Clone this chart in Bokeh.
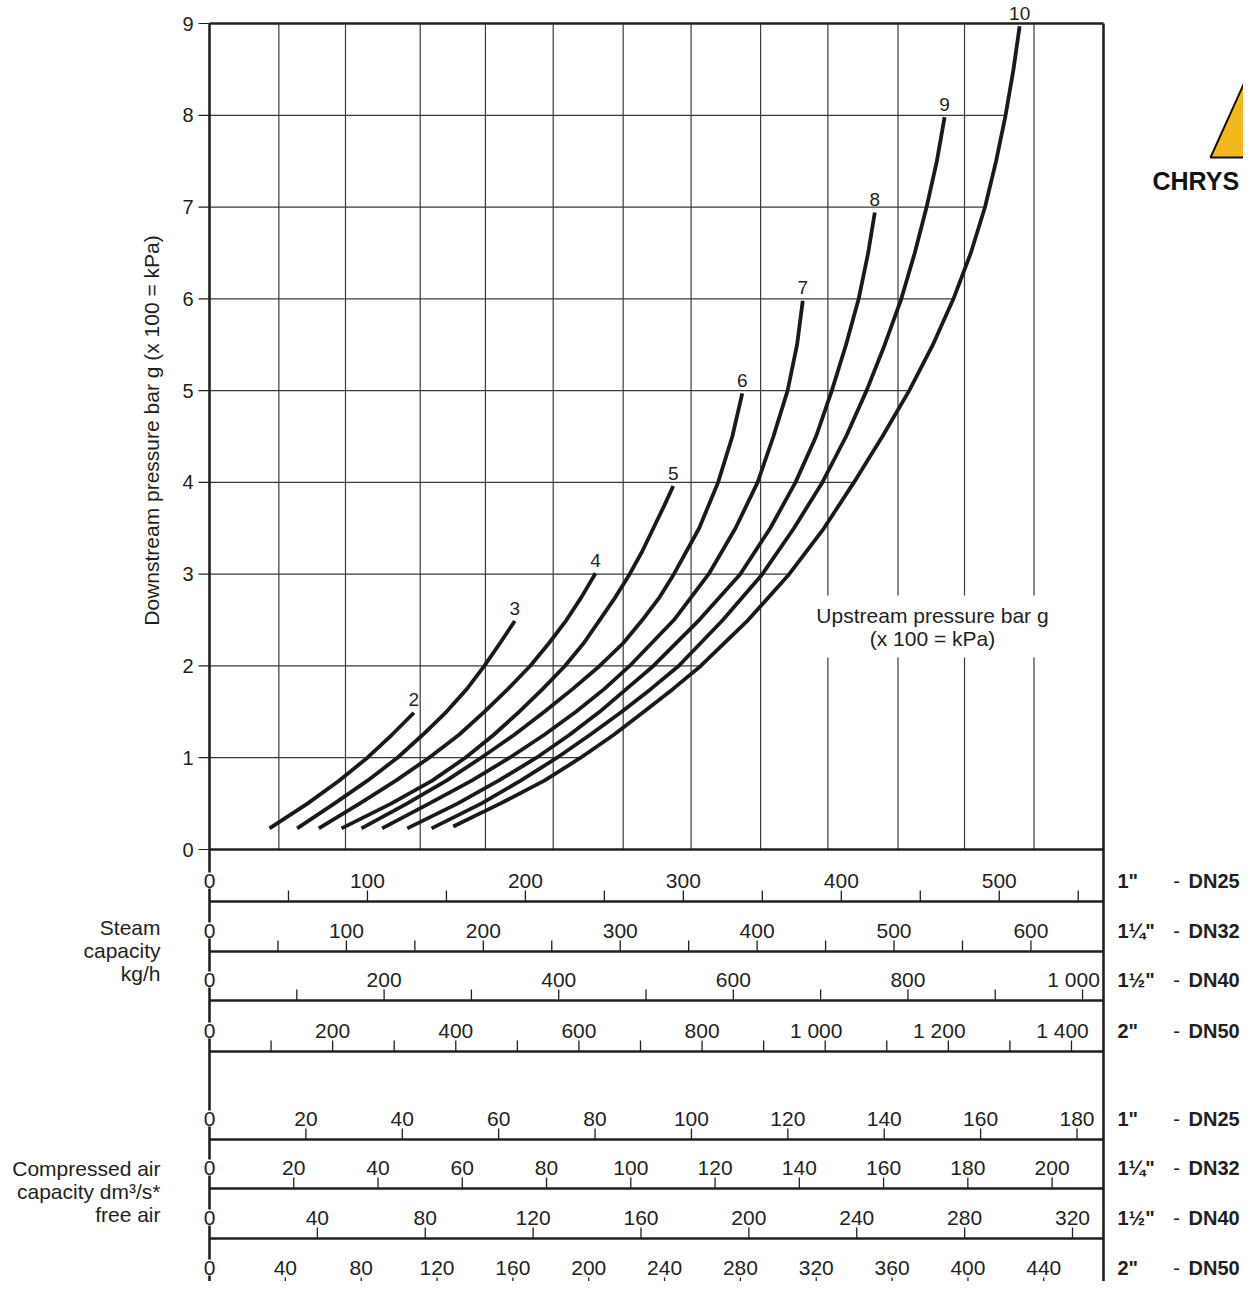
import numpy as np
from bokeh.plotting import figure
from bokeh.models import Range1d
from bokeh.embed import file_html
from bokeh.resources import INLINE
from bokeh.core.properties import value

# ---------------- data ----------------
UPSTREAM = ["2", "3", "4", "5", "6", "7", "8", "9", "10"]

# downstream pressure (bar g) and steam capacity 1" DN25 (kg/h) along each curve
P2_C2 = [0.23, 0.5, 0.75, 1.0, 1.25, 1.49]
Q_C2 = [38, 62, 82, 100, 115.5, 129.4]
P2_C3 = [0.23, 0.5, 0.75, 1.0, 1.25, 1.5, 1.75, 2.0, 2.25, 2.49]
Q_C3 = [55.5, 79, 100, 119, 135, 150, 163, 174, 184, 193.3]
P2_C4 = [0.23, 0.5, 0.75, 1.0, 1.25, 1.5, 1.75, 2.0, 2.25, 2.5, 2.75, 3.01]
Q_C4 = [69.2, 95, 118, 139, 158, 174, 189, 203, 215, 226, 235.5, 244.4]
P2_C5 = [0.23, 0.5, 0.75, 1.0, 1.25, 1.5, 1.75, 2.0, 2.25, 2.5, 2.75, 3.0, 3.25, 3.5, 3.75, 3.96]
Q_C5 = [83.6, 115, 141, 162, 180, 196, 211, 225, 237, 247, 257, 266, 274, 281, 288, 293.6]
P2_C6 = [0.23, 0.5, 0.75, 1.0, 1.25, 1.5, 1.75, 2.0, 2.25, 2.5, 2.75, 3.0, 3.5, 4.0, 4.5, 4.97]
Q_C6 = [96.2, 125, 150, 172, 193, 212, 230, 247, 262, 274, 285, 294, 310, 322, 331, 337.3]
P2_C7 = [0.23, 0.5, 0.75, 1.0, 1.25, 1.5, 1.75, 2.0, 2.5, 3.0, 3.5, 4.0, 4.5, 5.0, 5.5, 5.98]
Q_C7 = [109.3, 139, 166, 190, 212, 232, 250, 266, 294, 316, 333, 347, 357, 366, 372, 375.6]
P2_C8 = [0.23, 0.5, 0.75, 1.0, 1.25, 1.5, 1.75, 2.0, 2.5, 3.0, 3.5, 4.0, 4.5, 5.0, 5.5, 6.0, 6.5, 6.94]
Q_C8 = [125.2, 157, 183, 207, 228, 247, 264, 281, 310, 336, 355, 371, 384, 394, 403, 411, 417, 421.2]
P2_C9 = [0.23, 0.5, 0.75, 1.0, 1.25, 1.5, 1.75, 2.0, 2.5, 3.0, 3.5, 4.0, 4.5, 5.0, 5.5, 6.0, 6.5, 7.0, 7.5, 7.98]
Q_C9 = [140.6, 172, 197, 220, 241, 261, 279.5, 297, 325, 350, 370, 388, 403, 416, 427.5, 438, 446.5, 454, 460.5, 465.4]
P2_C10 = [0.25, 0.5, 0.75, 1.0, 1.25, 1.5, 1.75, 2.0, 2.5, 3.0, 3.5, 4.0, 4.5, 5.0, 5.5, 6.0, 6.5, 7.0, 7.5, 8.0, 8.5, 8.97]
Q_C10 = [154.3, 184, 212, 235, 256, 275, 293.5, 311, 341, 367, 389, 408, 426, 443, 458, 471, 482, 491, 498, 504, 509, 512.9]

Y_TICKS = [0, 1, 2, 3, 4, 5, 6, 7, 8, 9]
GRID_Q = [43.9, 86.1, 133.4, 174.7, 217.6, 261.9, 304.9, 348.9, 391.5, 435.9, 478.0, 522.0]
MAIN_MAX = 566          # 1" DN25 kg/h at the right edge of the chart

SIZES = ['1"', '1\u00bc"', '1\u00bd"', '2"']
DNS = ["DN25", "DN32", "DN40", "DN50"]

STEAM_MAX = [566, 653, 1024, 1452]
STEAM_DN25_LABELS = [0, 100, 200, 300, 400, 500]
STEAM_DN25_TICKS = [50, 100, 150, 200, 250, 300, 350, 400, 450, 500, 550]
STEAM_DN32_LABELS = [0, 100, 200, 300, 400, 500, 600]
STEAM_DN32_TICKS = [50, 100, 150, 200, 250, 300, 350, 400, 450, 500, 550, 600]
STEAM_DN40_LABELS = [0, 200, 400, 600, 800, 1000]
STEAM_DN40_TICKS = [100, 200, 300, 400, 500, 600, 700, 800, 900, 1000]
STEAM_DN50_LABELS = [0, 200, 400, 600, 800, 1000, 1200, 1400]
STEAM_DN50_TICKS = [100, 200, 300, 400, 500, 600, 700, 800, 900, 1000, 1100, 1200, 1300, 1400]

AIR_MAX = [185.5, 212.2, 331.5, 471.5]
AIR_DN25_LABELS = [0, 20, 40, 60, 80, 100, 120, 140, 160, 180]
AIR_DN25_TICKS = [20, 40, 60, 80, 100, 120, 140, 160, 180]
AIR_DN32_LABELS = [0, 20, 40, 60, 80, 100, 120, 140, 160, 180, 200]
AIR_DN32_TICKS = [20, 40, 60, 80, 100, 120, 140, 160, 180, 200]
AIR_DN40_LABELS = [0, 40, 80, 120, 160, 200, 240, 280, 320]
AIR_DN40_TICKS = [40, 80, 120, 160, 200, 240, 280, 320]
AIR_DN50_LABELS = [0, 40, 80, 120, 160, 200, 240, 280, 320, 360, 400, 440]
AIR_DN50_TICKS = [40, 80, 120, 160, 200, 240, 280, 320, 360, 400, 440]

# ---------------- layout (picture pixels) ----------------
W, H = 1243, 1281
CL, CT = 0, 0
CR, CB = CL + W, CT + H
PX_L, PX_R = 209, 1103
PX_Y0, PX_Y9 = 849, 23
STEAM_BASE = [901, 951, 1000, 1051]
AIR_BASE = [1139, 1188, 1238, 1288]
TICK_LEN = 11
LABEL_UP = 21

INK = "#231f20"
GRID_C = "#3a3a3a"
FONT = value("Liberation Sans")


def x_range_for(vmax):
    k = (PX_R - PX_L) / vmax
    return Range1d(start=(CL - PX_L) / k, end=(CR - PX_L) / k)


ky = (PX_Y0 - PX_Y9) / 9.0
y_range = Range1d(start=-(CB - PX_Y0) / ky, end=9 + (PX_Y9 - CT) / ky)

p = figure(width=W, height=H, x_range=x_range_for(MAIN_MAX), y_range=y_range,
           min_border=0, toolbar_location=None, output_backend="svg",
           x_axis_location=None, y_axis_location=None)
p.outline_line_color = None
p.grid.visible = False

xr = {"page": Range1d(start=CL, end=CR)}
for i in range(4):
    xr["steam%d" % i] = x_range_for(STEAM_MAX[i])
    xr["air%d" % i] = x_range_for(AIR_MAX[i])
p.extra_x_ranges = xr
p.extra_y_ranges = {"page": Range1d(start=CB, end=CT)}

# ---- main chart grid ----
p.segment(x0=GRID_Q, x1=GRID_Q, y0=0, y1=9, line_color=GRID_C, line_width=1.2)
HY = Y_TICKS[1:-1]
HX = list(np.interp(HY, P2_C10, Q_C10))
p.segment(x0=0, x1=HX, y0=HY, y1=HY, line_color=GRID_C, line_width=1.2)

# frame top / bottom
p.segment(x0=[0, 0], x1=[MAIN_MAX, MAIN_MAX], y0=[0, 9], y1=[0, 9],
          line_color=INK, line_width=2.6)
# full-height left / right lines
p.segment(x0=[0, MAIN_MAX], x1=[0, MAIN_MAX], y0=[PX_Y9, PX_Y9], y1=[CB, CB],
          y_range_name="page", line_color=INK, line_width=2.6)

# y axis ticks + labels
p.segment(x0=PX_L - 11, x1=PX_L, y0=Y_TICKS, y1=Y_TICKS, x_range_name="page",
          line_color=INK, line_width=1.2)
p.text(x=PX_L - 16, y=Y_TICKS, text=[str(t) for t in Y_TICKS], x_range_name="page",
       text_align="right", text_baseline="middle", text_font=FONT,
       text_font_size="20px", text_color=INK)
p.text(x=[151], y=[430], text=["Downstream pressure bar g (x 100 = kPa)"],
       x_range_name="page", y_range_name="page", angle=np.pi / 2,
       text_align="center", text_baseline="middle", text_font=FONT,
       text_font_size="21px", text_color=INK)

# curves
XS = [Q_C2, Q_C3, Q_C4, Q_C5, Q_C6, Q_C7, Q_C8, Q_C9, Q_C10]
YS = [P2_C2, P2_C3, P2_C4, P2_C5, P2_C6, P2_C7, P2_C8, P2_C9, P2_C10]
p.multi_line(xs=XS, ys=YS, line_color="#1a1a1a", line_width=3.8,
             line_join="round", line_cap="butt")
p.text(x=[q[-1] for q in XS], y=[y[-1] + 0.14 for y in YS], text=UPSTREAM,
       text_align="center", text_baseline="middle", text_font=FONT,
       text_font_size="19px", text_color=INK)

p.text(x=[932], y=[626], text=["Upstream pressure bar g\n(x 100 = kPa)"],
       x_range_name="page", y_range_name="page", text_align="center",
       text_baseline="middle", text_line_height=1.0, text_font=FONT,
       text_font_size="21px", text_color=INK,
       background_fill_color="white", padding=8)


def fmt(v):
    return ("%d" % v) if v < 1000 else ("%d %03d" % (v // 1000, v % 1000))


def strip(rname, vmax, base, labels, ticks):
    p.segment(x0=[0], x1=[vmax], y0=[base], y1=[base], x_range_name=rname,
              y_range_name="page", line_color=INK, line_width=2.6)
    p.segment(x0=ticks, x1=ticks, y0=base, y1=base - TICK_LEN, x_range_name=rname,
              y_range_name="page", line_color=INK, line_width=1.3)
    nz = [v for v in labels if v != 0]
    p.text(x=nz, y=base - LABEL_UP, text=[fmt(v) for v in nz],
           x_offset=[-9 if v >= 1000 else 0 for v in nz],
           x_range_name=rname, y_range_name="page", text_align="center",
           text_baseline="middle", text_font=FONT, text_font_size="21px",
           text_color=INK)
    p.text(x=[0], y=[base - LABEL_UP], text=["0"], x_range_name=rname,
           y_range_name="page", text_align="center", text_baseline="middle",
           text_font=FONT, text_font_size="21px", text_color=INK,
           background_fill_color="white", padding=1)


STEAM_LABELS = [STEAM_DN25_LABELS, STEAM_DN32_LABELS, STEAM_DN40_LABELS, STEAM_DN50_LABELS]
STEAM_TICKS = [STEAM_DN25_TICKS, STEAM_DN32_TICKS, STEAM_DN40_TICKS, STEAM_DN50_TICKS]
AIR_LABELS = [AIR_DN25_LABELS, AIR_DN32_LABELS, AIR_DN40_LABELS, AIR_DN50_LABELS]
AIR_TICKS = [AIR_DN25_TICKS, AIR_DN32_TICKS, AIR_DN40_TICKS, AIR_DN50_TICKS]

for i in range(4):
    strip("steam%d" % i, STEAM_MAX[i], STEAM_BASE[i], STEAM_LABELS[i], STEAM_TICKS[i])
    strip("air%d" % i, AIR_MAX[i], AIR_BASE[i], AIR_LABELS[i], AIR_TICKS[i])

ROW_Y = [b - LABEL_UP for b in STEAM_BASE + AIR_BASE]
p.text(x=1117, y=ROW_Y, text=SIZES + SIZES, x_range_name="page", y_range_name="page",
       text_align="left", text_baseline="middle", text_font=FONT,
       text_font_size="20px", text_font_style="bold", text_color=INK)
p.text(x=1176, y=ROW_Y, text=["-"] * 8, x_range_name="page", y_range_name="page",
       text_align="center", text_baseline="middle", text_font=FONT,
       text_font_size="20px", text_color=INK)
p.text(x=1188, y=ROW_Y, text=DNS + DNS, x_range_name="page", y_range_name="page",
       text_align="left", text_baseline="middle", text_font=FONT,
       text_font_size="20px", text_font_style="bold", text_color=INK)

p.text(x=[160, 160], y=[950, 1191],
       text=["Steam\ncapacity\nkg/h", "Compressed air\ncapacity dm\u00b3/s*\nfree air"],
       x_range_name="page", y_range_name="page", text_align="right",
       text_baseline="middle", text_line_height=1.0, text_font=FONT,
       text_font_size="21px", text_color=INK)

# logo fragment
p.patch(x=[1210, 1272, 1334], y=[157, 20, 157], x_range_name="page",
        y_range_name="page", fill_color="#f4b81c", line_color="#111111", line_width=2)
p.text(x=[1152], y=[180], text=["CHRYS"], x_range_name="page", y_range_name="page",
       text_align="left", text_baseline="middle", text_font=FONT,
       text_font_size="25px", text_font_style="bold", text_color="#111111")

open("out.html", "w").write(file_html(p, INLINE))
